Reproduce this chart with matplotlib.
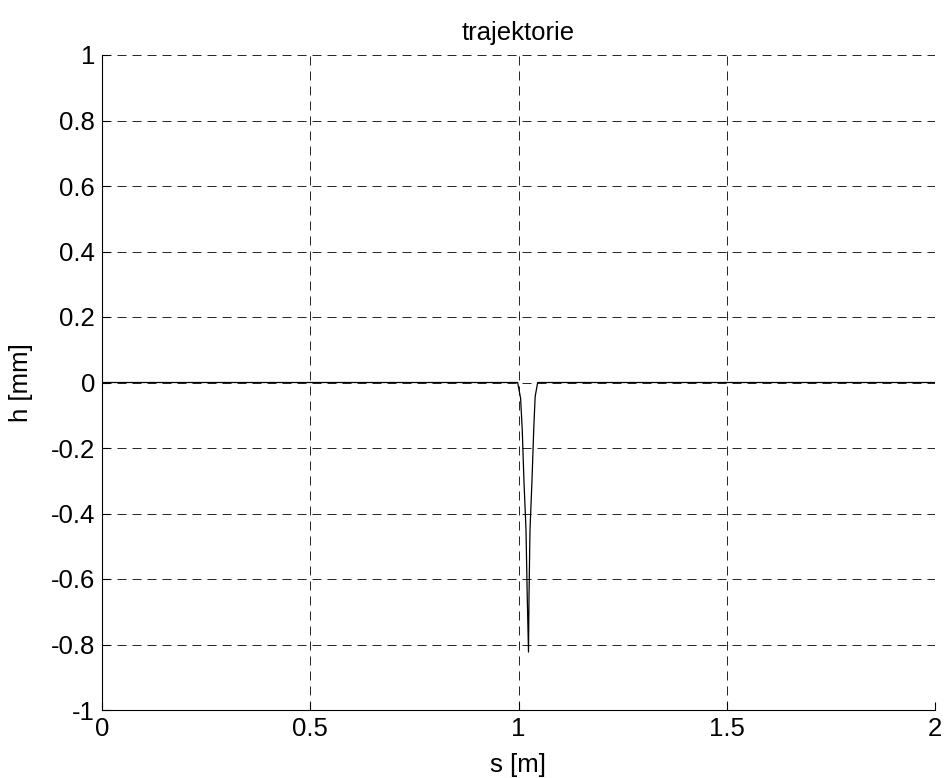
import numpy as np
import matplotlib
matplotlib.use("Agg")
import matplotlib.pyplot as plt

plt.rcParams['font.family'] = ['Liberation Sans', 'DejaVu Sans']
plt.rcParams['lines.scale_dashes'] = False

# trajectory points (s in m, h in mm)
s = [0.0, 0.998, 1.005, 1.009, 1.013, 1.018, 1.021, 1.024,
     1.0252, 1.0276, 1.0324, 1.0365, 1.040, 1.046, 2.0]
h = [0.0, 0.0, -0.048, -0.145, -0.298, -0.45, -0.654, -0.823,
     -0.654, -0.45, -0.298, -0.145, -0.043, 0.0, 0.0]

xticks = [0, 0.5, 1, 1.5, 2]
yticks = [-1, -0.8, -0.6, -0.4, -0.2, 0, 0.2, 0.4, 0.6, 0.8, 1]
yticklabels = ['-1', '-0.8', '-0.6', '-0.4', '-0.2', '0', '0.2', '0.4', '0.6', '0.8', '1']

fig = plt.figure(figsize=(9.45, 7.78), dpi=100)
ax = fig.add_axes([102/945, 68/778, 833/945, 655/778])

ax.plot(s, h, color='black', lw=0.9)

ax.set_xlim(0, 2)
ax.set_ylim(-1, 1)
ax.set_xticks(xticks)
ax.set_xticklabels(['0', '0.5', '1', '1.5', '2'])
ax.set_yticks(yticks)
ax.set_yticklabels(yticklabels)

ax.grid(True, color='black', linestyle=(0, (6.5, 4.3)), lw=0.6)
ax.spines['top'].set_visible(False)
ax.spines['right'].set_visible(False)
for sp in ['left', 'bottom']:
    ax.spines[sp].set_linewidth(0.8)
ax.tick_params(direction='in', length=6, width=0.8, labelsize=18.5, pad=5)

ax.set_title('trajektorie', fontsize=18.5, pad=11)
ax.set_xlabel('s [m]', fontsize=18.5, labelpad=9)
ax.set_ylabel('h [mm]', fontsize=18.5, labelpad=13)

fig.savefig('out.png', dpi=100)
